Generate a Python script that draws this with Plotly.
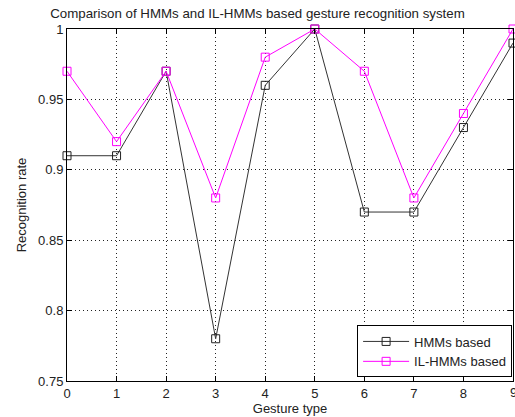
import plotly.graph_objects as go

gesture = [0, 1, 2, 3, 4, 5, 6, 7, 8, 9]
hmm = [0.91, 0.91, 0.97, 0.78, 0.96, 1.0, 0.87, 0.87, 0.93, 0.99]
il_hmm = [0.97, 0.92, 0.97, 0.88, 0.98, 1.0, 0.97, 0.88, 0.94, 1.0]
ytick_vals = [0.75, 0.8, 0.85, 0.9, 0.95, 1.0]
ytick_text = ["0.75", "0.8", "0.85", "0.9", "0.95", "1"]

FONT = "Liberation Sans, Arial"
TXT = "#222"

fig = go.Figure()
fig.add_trace(go.Scatter(x=gesture, y=hmm, mode="lines+markers", name="HMMs based",
                         line=dict(color="#333333", width=1),
                         marker=dict(symbol="square-open", size=8, color="#222222", line=dict(width=1)),
                         cliponaxis=False))
fig.add_trace(go.Scatter(x=gesture, y=il_hmm, mode="lines+markers", name="IL-HMMs based",
                         line=dict(color="#ff00ff", width=1),
                         marker=dict(symbol="square-open", size=8, color="#ff00ff", line=dict(width=1)),
                         cliponaxis=False))

axis_common = dict(showline=True, linecolor="black", linewidth=1, mirror="ticks",
                   ticks="inside", ticklen=5, tickcolor="black",
                   showgrid=True, gridcolor="#222", griddash="1px,3px", gridwidth=1,
                   zeroline=False, tickfont=dict(family=FONT, size=13, color=TXT))

fig.update_layout(
    width=515, height=417,
    margin=dict(l=67, r=2, t=29, b=36),
    paper_bgcolor="white", plot_bgcolor="white",
    title=dict(text="Comparison of HMMs and IL-HMMs based gesture recognition system",
               x=0.5, xanchor="center", y=0.967, yanchor="middle",
               font=dict(family=FONT, size=13.3, color=TXT)),
    xaxis=dict(range=[0, 9], tickvals=gesture, title=dict(text="Gesture type", standoff=4,
               font=dict(family=FONT, size=13, color=TXT)), **axis_common),
    yaxis=dict(range=[0.75, 1.0], tickvals=ytick_vals, ticktext=ytick_text,
               title=dict(text="Recognition rate", standoff=8,
               font=dict(family=FONT, size=13, color=TXT)), **axis_common),
    legend=dict(x=0.998, y=0.01, xanchor="right", yanchor="bottom",
                bgcolor="white", bordercolor="black", borderwidth=1,
                font=dict(family=FONT, size=13, color=TXT),
                tracegroupgap=0, itemwidth=46),
    showlegend=True,
)

# last x tick label partially visible at the right edge, as in the reference
fig.add_annotation(x=gesture[-1], y=0, xref="x", yref="paper", yanchor="top", yshift=-2,
                   text=str(gesture[-1]), showarrow=False,
                   font=dict(family=FONT, size=13, color=TXT))

fig.write_html("out.html", config={"displayModeBar": False},
               post_script="document.body.style.margin='0';document.body.style.overflow='hidden';")
